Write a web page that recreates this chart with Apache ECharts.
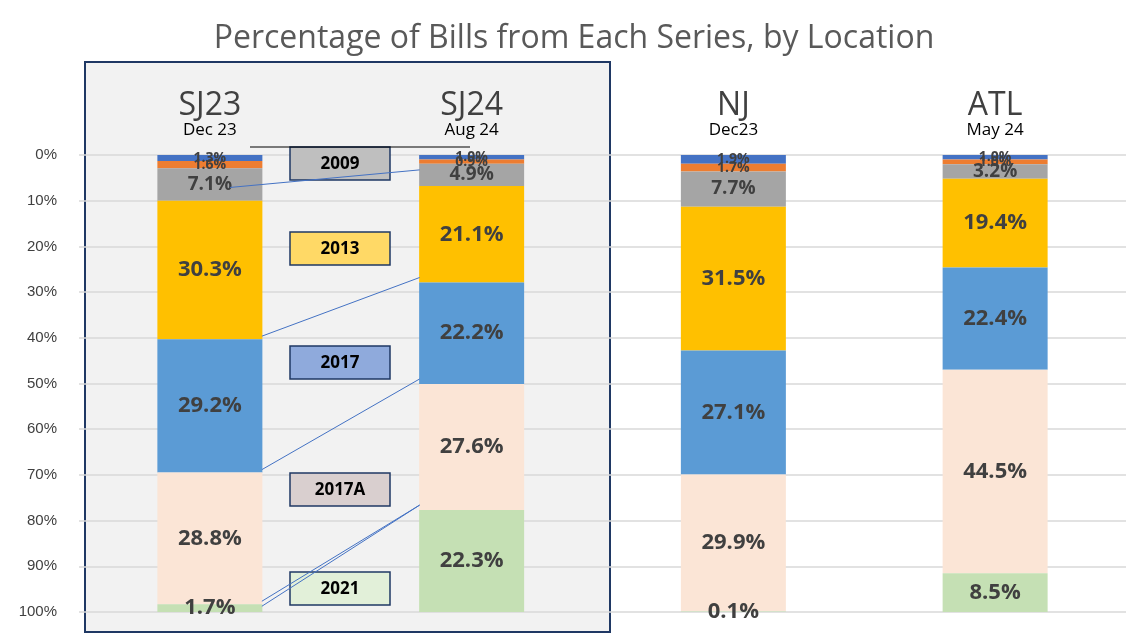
<!DOCTYPE html><html><head><meta charset="utf-8"><script src="https://cdn.jsdelivr.net/npm/echarts@6/dist/echarts.min.js"></script>
<style>html,body{margin:0;background:#fff}#c{width:1148px;height:636px}</style></head><body><div id="c"></div><script>
const locations=['SJ23','SJ24','NJ','ATL'];
const dates=['Dec 23','Aug 24','Dec23','May 24'];
const seriesNames=['2003','2006','2009','2013','2017','2017A','2021'];
const s2003=[1.3,1.0,1.9,1.0];
const s2006=[1.6,0.9,1.7,1.0];
const s2009=[7.1,4.9,7.7,3.2];
const s2013=[30.3,21.1,31.5,19.4];
const s2017=[29.2,22.2,27.1,22.4];
const s2017A=[28.8,27.6,29.9,44.5];
const s2021=[1.7,22.3,0.1,8.5];
const yTicks=[0,10,20,30,40,50,60,70,80,90,100];
const all=[s2003,s2006,s2009,s2013,s2017,s2017A,s2021];
const colors=['#4472c4','#ed7d31','#a5a5a5','#ffc000','#5b9bd5','#fbe5d6','#c5e0b4'];
const chart=echarts.init(document.getElementById('c'));
chart.setOption({
 animation:false,
 title:{text:'Percentage of Bills from Each Series, by Location',left:'center',top:18,textStyle:{fontSize:32,fontWeight:'normal',color:'#595959',fontFamily:'Open Sans'}},
 grid:{left:79,right:22,top:155,bottom:24},
 xAxis:{type:'category',position:'top',data:locations.map((l,i)=>l+'\n'+dates[i]),axisLine:{show:false},axisTick:{show:false},
  axisLabel:{interval:0,margin:16,formatter:(v)=>{const p=v.split('\n');return '{a|'+p[0]+'}\n{b|'+p[1]+'}';},
   rich:{a:{fontSize:32,color:'#404040',fontFamily:'Open Sans',lineHeight:30},b:{fontSize:17,color:'#000',fontFamily:'Open Sans',lineHeight:18}}}},
 yAxis:{type:'value',inverse:true,min:0,max:100,interval:10,axisLabel:{formatter:v=>yTicks.includes(v)?v+'%':'',fontSize:15,color:'#404040',margin:22},splitLine:{lineStyle:{color:'#d9d9d9',width:1.5}},axisLine:{show:false}},
 series:all.map((d,i)=>({name:seriesNames[i],type:'bar',stack:'t',barWidth:105,data:d,itemStyle:{color:colors[i]},
  label:{show:true,formatter:p=>p.value.toFixed(1)+'%',color:'#404040',fontWeight:'bold',fontFamily:'Open Sans',fontSize:i<2?14:(i==2?19:22)}}))
});
const boxes=[['2009',147,'#bfbfbf'],['2013',232,'#ffd966'],['2017',346,'#8faadc'],['2017A',473,'#d9cfcf'],['2021',572,'#e2f0d9']];
const cum=k=>all.map((_,j)=>all.slice(0,k).reduce((s,a)=>s+a[j],0));
const P=(ci,v)=>chart.convertToPixel({xAxisIndex:0,yAxisIndex:0},[ci,v]);
const g=[{type:'rect',shape:{x:85,y:62,width:525,height:570},style:{fill:'#f2f2f2',stroke:'#1f3864',lineWidth:2},z:-10}];
g.push({type:'line',shape:{x1:250,y1:147,x2:470,y2:147},style:{stroke:'#000',lineWidth:1},z:5});
const links=[[2.5,2.5],[4,4],[5,5],[6,6]];
// 2009 link: middle of segment
{const a=P(0,(cum(2)[0]+cum(3)[0])/2),b=P(1,(cum(2)[1]+cum(3)[1])/2);g.push({type:'line',shape:{x1:a[0]+20,y1:a[1]+3,x2:b[0]-52,y2:b[1]-5},style:{stroke:'#4472c4',lineWidth:1},z:5});}
[4,5,6].forEach(k=>{const a=P(0,cum(k)[0]),b=P(1,cum(k)[1]);g.push({type:'line',shape:{x1:a[0]+52,y1:a[1]-3,x2:b[0]-52,y2:b[1]-5},style:{stroke:'#4472c4',lineWidth:1},z:5});});
{const a=P(0,cum(6)[0]),b=P(1,cum(6)[1]);g.push({type:'line',shape:{x1:a[0]+52,y1:a[1]+2,x2:b[0]-52,y2:b[1]-5},style:{stroke:'#4472c4',lineWidth:1},z:5});}
boxes.forEach(([t,y,c])=>g.push({type:'group',z:10,children:[{type:'rect',shape:{x:290,y:y,width:100,height:33},style:{fill:c,stroke:'#1f3864',lineWidth:1.5}},{type:'text',style:{x:340,y:y+17,text:t,textAlign:'center',textVerticalAlign:'middle',fontSize:17,fontWeight:'bold',fill:'#000',fontFamily:'Open Sans'}}]}));
chart.setOption({graphic:g});
</script></body></html>
